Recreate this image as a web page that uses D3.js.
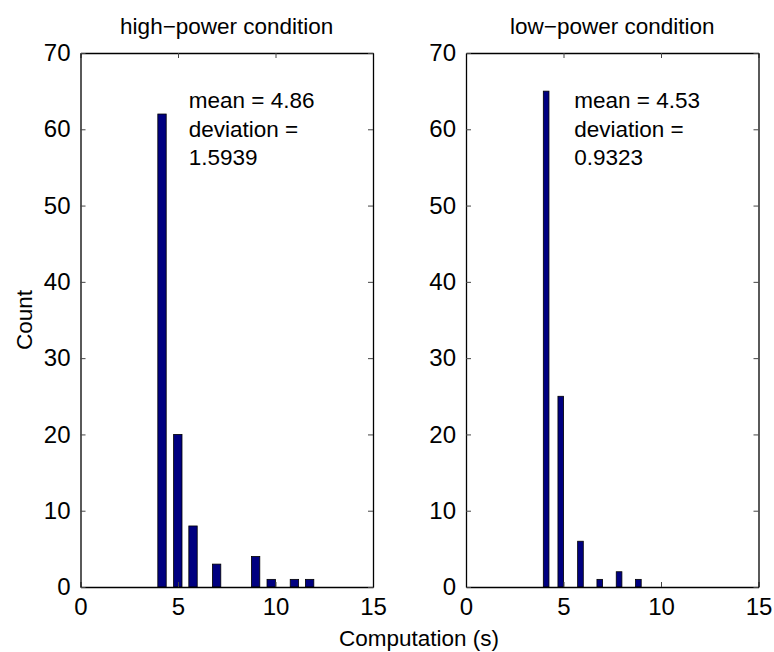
<!DOCTYPE html>
<html>
<head>
<meta charset="utf-8">
<script src="https://cdn.jsdelivr.net/npm/d3@7"></script>
<style>
  body { margin: 0; background: #fff; }
  text { font-family: "Liberation Sans", Arial, sans-serif; fill: #000; }
</style>
</head>
<body>
<script>
// histogram bins (bin centre in seconds, count)
const highBins = [4.18, 4.99, 5.77, 6.98, 8.98, 9.78, 10.97, 11.75];
const highCounts = [62, 20, 8, 3, 4, 1, 1, 1];
const lowBins = [4.11, 4.86, 5.87, 6.86, 7.85, 8.84];
const lowCounts = [65, 25, 6, 1, 2, 1];

const xTicks = [0, 5, 10, 15];
const yTicks = [0, 10, 20, 30, 40, 50, 60, 70];

const titles = ["high\u2212power condition", "low\u2212power condition"];
const notes = [
  ["mean = 4.86", "deviation =", "1.5939"],
  ["mean = 4.53", "deviation =", "0.9323"]
];

const WIDTH = 774, HEIGHT = 652;
const plotTop = 53, plotBottom = 587;
const panels = [
  {left: 80.5, right: 373, bins: highBins, counts: highCounts, barW: 0.43},
  {left: 466, right: 758.5, bins: lowBins, counts: lowCounts, barW: 0.29}
];

const svg = d3.select("body").append("svg")
    .attr("width", WIDTH)
    .attr("height", HEIGHT);

const yScale = d3.scaleLinear().domain([0, 70]).range([plotBottom, plotTop]);

panels.forEach((p, i) => {
  let xScale = d3.scaleLinear().domain([0, 15]).range([p.left, p.right]);
  let g = svg.append("g");

  // bars
  g.selectAll("rect.bar")
    .data(p.bins.map((b, j) => ({x: b, n: p.counts[j]})))
    .enter().append("rect")
      .attr("class", "bar")
      .attr("x", d => xScale(d.x - p.barW / 2))
      .attr("width", d => xScale(d.x + p.barW / 2) - xScale(d.x - p.barW / 2))
      .attr("y", d => yScale(d.n))
      .attr("height", d => yScale(0) - yScale(d.n))
      .attr("fill", "#000080")
      .attr("stroke", "#000")
      .attr("stroke-width", 0.8);

  // axes, matlab style: ticks inward on all four sides
  let axB = g.append("g").attr("transform", "translate(0," + plotBottom + ")")
    .call(d3.axisBottom(xScale).tickValues(xTicks).tickSizeInner(-5).tickSizeOuter(0).tickPadding(11));
  let axT = g.append("g").attr("transform", "translate(0," + plotTop + ")")
    .call(d3.axisTop(xScale).tickValues(xTicks).tickSizeInner(-5).tickSizeOuter(0).tickFormat(""));
  let axL = g.append("g").attr("transform", "translate(" + p.left + ",0)")
    .call(d3.axisLeft(yScale).tickValues(yTicks).tickSizeInner(-5).tickSizeOuter(0).tickPadding(10));
  let axR = g.append("g").attr("transform", "translate(" + p.right + ",0)")
    .call(d3.axisRight(yScale).tickValues(yTicks).tickSizeInner(-5).tickSizeOuter(0).tickFormat(""));

  [axB, axT, axL, axR].forEach(a => {
    a.select(".domain").attr("stroke", "#000").attr("stroke-width", 1.3);
    a.selectAll(".tick line").attr("stroke", "#444");
    a.selectAll("text").attr("font-size", 24).attr("font-family", "Liberation Sans, Arial, sans-serif").attr("fill", "#000");
  });

  g.append("text")
    .attr("x", (p.left + p.right) / 2)
    .attr("y", 34)
    .attr("text-anchor", "middle")
    .attr("font-size", 22.5)
    .text(titles[i]);

  let note = g.append("text")
    .attr("x", xScale(5.55))
    .attr("y", 108)
    .attr("font-size", 22.5);
  notes[i].forEach((t, k) => {
    note.append("tspan").attr("x", xScale(5.55)).attr("dy", k === 0 ? 0 : 28.5).text(t);
  });
});

svg.append("text")
  .attr("x", 419)
  .attr("y", 646)
  .attr("text-anchor", "middle")
  .attr("font-size", 22.5)
  .text("Computation (s)");

svg.append("text")
  .attr("transform", "rotate(-90)")
  .attr("x", -(plotTop + plotBottom) / 2)
  .attr("y", 32)
  .attr("text-anchor", "middle")
  .attr("font-size", 22.5)
  .text("Count");
</script>
</body>
</html>
